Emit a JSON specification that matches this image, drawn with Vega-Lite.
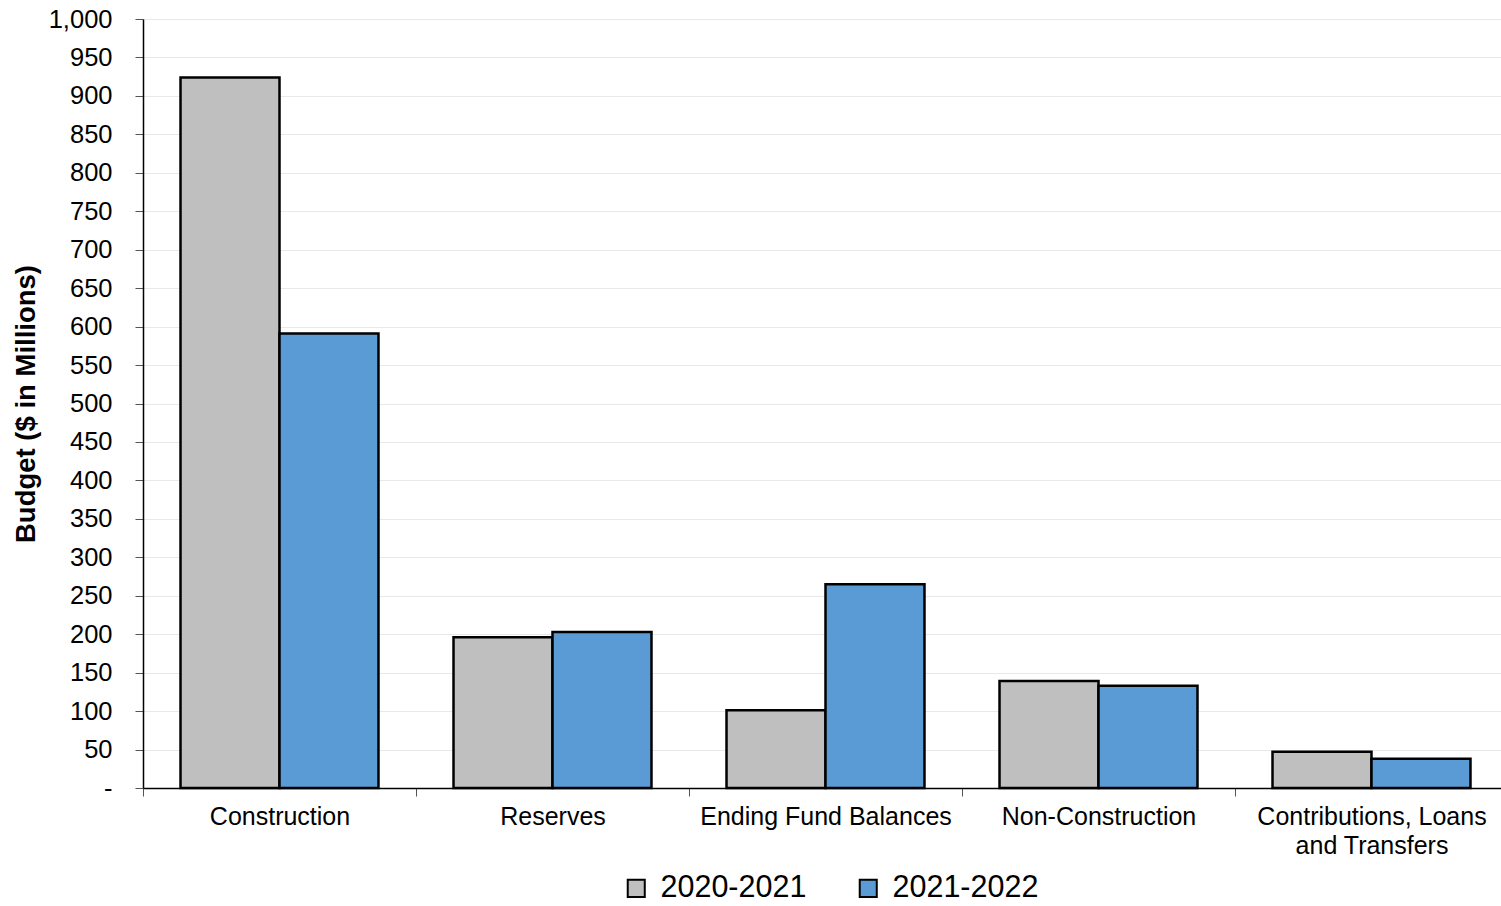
{
  "$schema": "https://vega.github.io/schema/vega-lite/v6.json",
  "autosize": "none",
  "width": 1358,
  "height": 769,
  "padding": {"left": 143, "top": 19, "right": 0, "bottom": 118},
  "background": "white",
  "config": {
    "font": "Liberation Sans",
    "view": {"stroke": null}
  },
  "data": {
    "values": [
      {"category": "Construction", "year": "2020-2021", "budget": 924},
      {"category": "Construction", "year": "2021-2022", "budget": 591},
      {"category": "Reserves", "year": "2020-2021", "budget": 196},
      {"category": "Reserves", "year": "2021-2022", "budget": 203},
      {"category": "Ending Fund Balances", "year": "2020-2021", "budget": 101},
      {"category": "Ending Fund Balances", "year": "2021-2022", "budget": 265},
      {"category": "Non-Construction", "year": "2020-2021", "budget": 139},
      {"category": "Non-Construction", "year": "2021-2022", "budget": 133},
      {"category": "Contributions, Loans and Transfers", "year": "2020-2021", "budget": 47},
      {"category": "Contributions, Loans and Transfers", "year": "2021-2022", "budget": 38}
    ]
  },
  "mark": {"type": "bar", "stroke": "black", "strokeWidth": 2.5},
  "encoding": {
    "x": {
      "field": "category",
      "type": "nominal",
      "sort": null,
      "scale": {"range": [0, 1365], "paddingInner": 0, "paddingOuter": 0},
      "axis": {
        "title": null,
        "labelAngle": 0,
        "labelFontSize": 25,
        "labelColor": "black",
        "labelPadding": 8,
        "labelLimit": 400,
        "labelLineHeight": 29,
        "labelExpr": "datum.value == 'Contributions, Loans and Transfers' ? ['Contributions, Loans', 'and Transfers'] : datum.label",
        "tickBand": "extent",
        "tickSize": 8,
        "tickColor": "#555555",
        "domainColor": "black",
        "domainWidth": 1.5,
        "grid": false
      }
    },
    "xOffset": {"field": "year", "type": "nominal", "scale": {"paddingInner": 0, "paddingOuter": 0.379}},
    "y": {
      "field": "budget",
      "type": "quantitative",
      "scale": {"domain": [0, 1000], "nice": false},
      "axis": {
        "title": "Budget ($ in Millions)",
        "titleFontSize": 27.5,
        "titleFontWeight": "bold",
        "titleColor": "black",
        "titlePadding": 8,
        "values": [0, 50, 100, 150, 200, 250, 300, 350, 400, 450, 500, 550, 600, 650, 700, 750, 800, 850, 900, 950, 1000],
        "labelExpr": "datum.value == 0 ? '-' : format(datum.value, ',')",
        "labelFontSize": 25.5,
        "labelColor": "black",
        "labelPadding": 23,
        "tickSize": 8,
        "tickColor": "#555555",
        "domainColor": "black",
        "domainWidth": 1.5,
        "gridColor": "#e8e8e8",
        "gridWidth": 1
      }
    },
    "fill": {
      "field": "year",
      "type": "nominal",
      "scale": {"domain": ["2020-2021", "2021-2022"], "range": ["#bfbfbf", "#5b9bd5"]},
      "legend": {
        "title": null,
        "orient": "none",
        "legendX": 478,
        "legendY": 854,
        "direction": "horizontal",
        "labelFontSize": 30.5,
        "labelColor": "black",
        "symbolType": "square",
        "symbolSize": 290,
        "symbolStrokeColor": "black",
        "symbolStrokeWidth": 2,
        "symbolOpacity": 1,
        "columnPadding": 46,
        "labelOffset": 9
      }
    }
  }
}
